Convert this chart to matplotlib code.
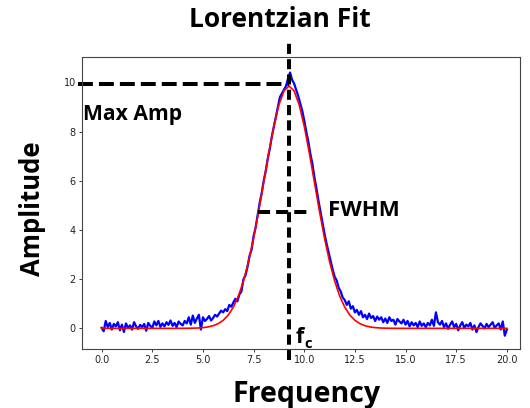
import numpy as np
import matplotlib
matplotlib.use('Agg')
import matplotlib.pyplot as plt

# measured spectrum, one value every 0.1 from 0 to 20
freq = np.arange(201) * 0.1
amp = [0.02, -0.12, 0.30, 0.05, 0.22, -0.05, 0.18, 0.08, 0.25, -0.08,
       0.15, -0.15, 0.20, 0.02, 0.12, -0.05, 0.25, 0.08, -0.02, 0.14,
       0.05, 0.18, -0.10, 0.22, 0.10, 0.02, 0.28, 0.12, 0.30, 0.06,
       0.20, 0.08, 0.25, 0.14, 0.32, 0.10, 0.22, 0.05, 0.28, 0.18,
       0.12, 0.30, 0.20, 0.45, 0.15, 0.52, 0.22, 0.40, 0.55, -0.05,
       0.45, 0.30, 0.38, 0.50, 0.32, 0.42, 0.55, 0.48, 0.60, 0.72,
       0.65, 0.78, 0.70, 0.95, 0.88, 1.05, 1.20, 1.10, 1.38, 1.50,
       2.00, 2.15, 2.50, 2.95, 3.20, 3.75, 4.10, 4.60, 5.10, 5.50,
       6.00, 6.40, 6.90, 7.30, 7.80, 8.20, 8.60, 9.00, 9.40, 9.55,
       9.70, 9.85, 10.15, 10.40, 10.10, 9.95, 9.70, 9.45, 9.15, 8.85,
       8.45, 8.00, 7.60, 7.10, 6.70, 6.15, 5.70, 5.20, 4.75, 4.30,
       3.85, 3.45, 3.10, 2.75, 2.40, 2.10, 1.95, 1.65, 1.50, 1.25,
       1.15, 0.95, 1.10, 0.80, 0.90, 0.65, 0.75, 0.55, 0.70, 0.45,
       0.55, 0.38, 0.60, 0.42, 0.50, 0.30, 0.48, 0.35, 0.45, 0.25,
       0.40, 0.22, 0.45, 0.30, 0.35, 0.15, 0.38, 0.28, 0.20, 0.35,
       0.15, 0.30, 0.08, 0.25, 0.12, 0.22, 0.05, 0.28, 0.10, 0.20,
       0.05, 0.22, 0.12, 0.35, 0.10, 0.65, 0.25, 0.15, 0.30, 0.05,
       0.20, -0.02, 0.15, 0.28, 0.05, 0.18, -0.08, 0.12, 0.25, 0.02,
       0.15, 0.08, 0.22, -0.05, 0.12, -0.15, 0.05, 0.20, 0.10, 0.00,
       0.18, 0.05, 0.15, 0.25, 0.02, 0.12, 0.20, -0.05, 0.28, -0.30,
       -0.05]

# fitted curve, one value every 0.25 from 0 to 20
fit_freq = np.arange(81) * 0.25
fit_amp = [0] * 16 + [
    0.001, 0.003, 0.007, 0.014, 0.029, 0.056, 0.106, 0.189, 0.326, 0.540,
    0.859, 1.312, 1.924, 2.710, 3.668, 4.767, 5.950, 7.134, 8.215, 9.087,
    9.653, 9.85, 9.653, 9.087, 8.215, 7.134, 5.950, 4.767, 3.668, 2.710,
    1.924, 1.312, 0.859, 0.540, 0.326, 0.189, 0.106, 0.056, 0.029, 0.014,
    0.007, 0.003, 0.001] + [0] * 22

# markers
f_c = 9.25
max_amp = 9.92
half_max = 4.73
fwhm_lo, fwhm_hi = 7.72, 10.3

W, H = 530, 408
txt = dict(family='Open Sans', fontweight='bold')

fig = plt.figure(figsize=(W / 100, H / 100), dpi=100)
ax = fig.add_axes([82 / W, 1 - 349 / H, (520 - 82) / W, (349 - 57) / H])

ax.plot(freq, amp, color='blue', lw=1.6)
ax.plot(fit_freq, fit_amp, color='red', lw=1.2)

ax.set_xlim(-0.97, 20.65)
ax.set_ylim(-0.84, 11.03)
ax.set_xticks(np.arange(0, 20.1, 2.5))
ax.set_xticklabels(['%.1f' % t for t in np.arange(0, 20.1, 2.5)])
ax.set_yticks(np.arange(0, 11, 2))
ax.tick_params(labelsize=7, length=2.5, width=0.6, pad=2, colors='#222222')
for s in ax.spines.values():
    s.set_linewidth(0.8)
    s.set_color('#444444')

# dashed guide lines
ax.plot([f_c, f_c], [-1.29, 11.6], color='black', lw=2.9, dashes=(2.5, 1.3), clip_on=False)
ax.plot([-1.17, f_c], [max_amp, max_amp], color='black', lw=2.9, dashes=(3.7, 1.5), clip_on=False)
ax.plot([fwhm_lo, fwhm_hi], [half_max, half_max], color='black', lw=2.9, dashes=(3.0, 1.5), clip_on=False)

# texts
fig.text(280 / W, 1 - 27 / H, 'Lorentzian Fit', ha='center', va='baseline', fontsize=19, **txt)
fig.text(307 / W, 1 - 402 / H, 'Frequency', ha='center', va='baseline', fontsize=20.5, **txt)
fig.text(32 / W, 1 - 209 / H, 'Amplitude', ha='center', va='center', rotation=90, fontsize=18.5, **txt)
fig.text(83 / W, 1 - 120 / H, 'Max Amp', ha='left', va='baseline', fontsize=15.2, **txt)
fig.text(328 / W, 1 - 216 / H, 'FWHM', ha='left', va='baseline', fontsize=16, **txt)
fig.text(296 / W, 1 - 343 / H, 'f', ha='left', va='baseline', fontsize=15.5, **txt)
fig.text(304.5 / W, 1 - 348 / H, 'c', ha='left', va='baseline', fontsize=10.5, **txt)

fig.savefig('out.png', dpi=100)
